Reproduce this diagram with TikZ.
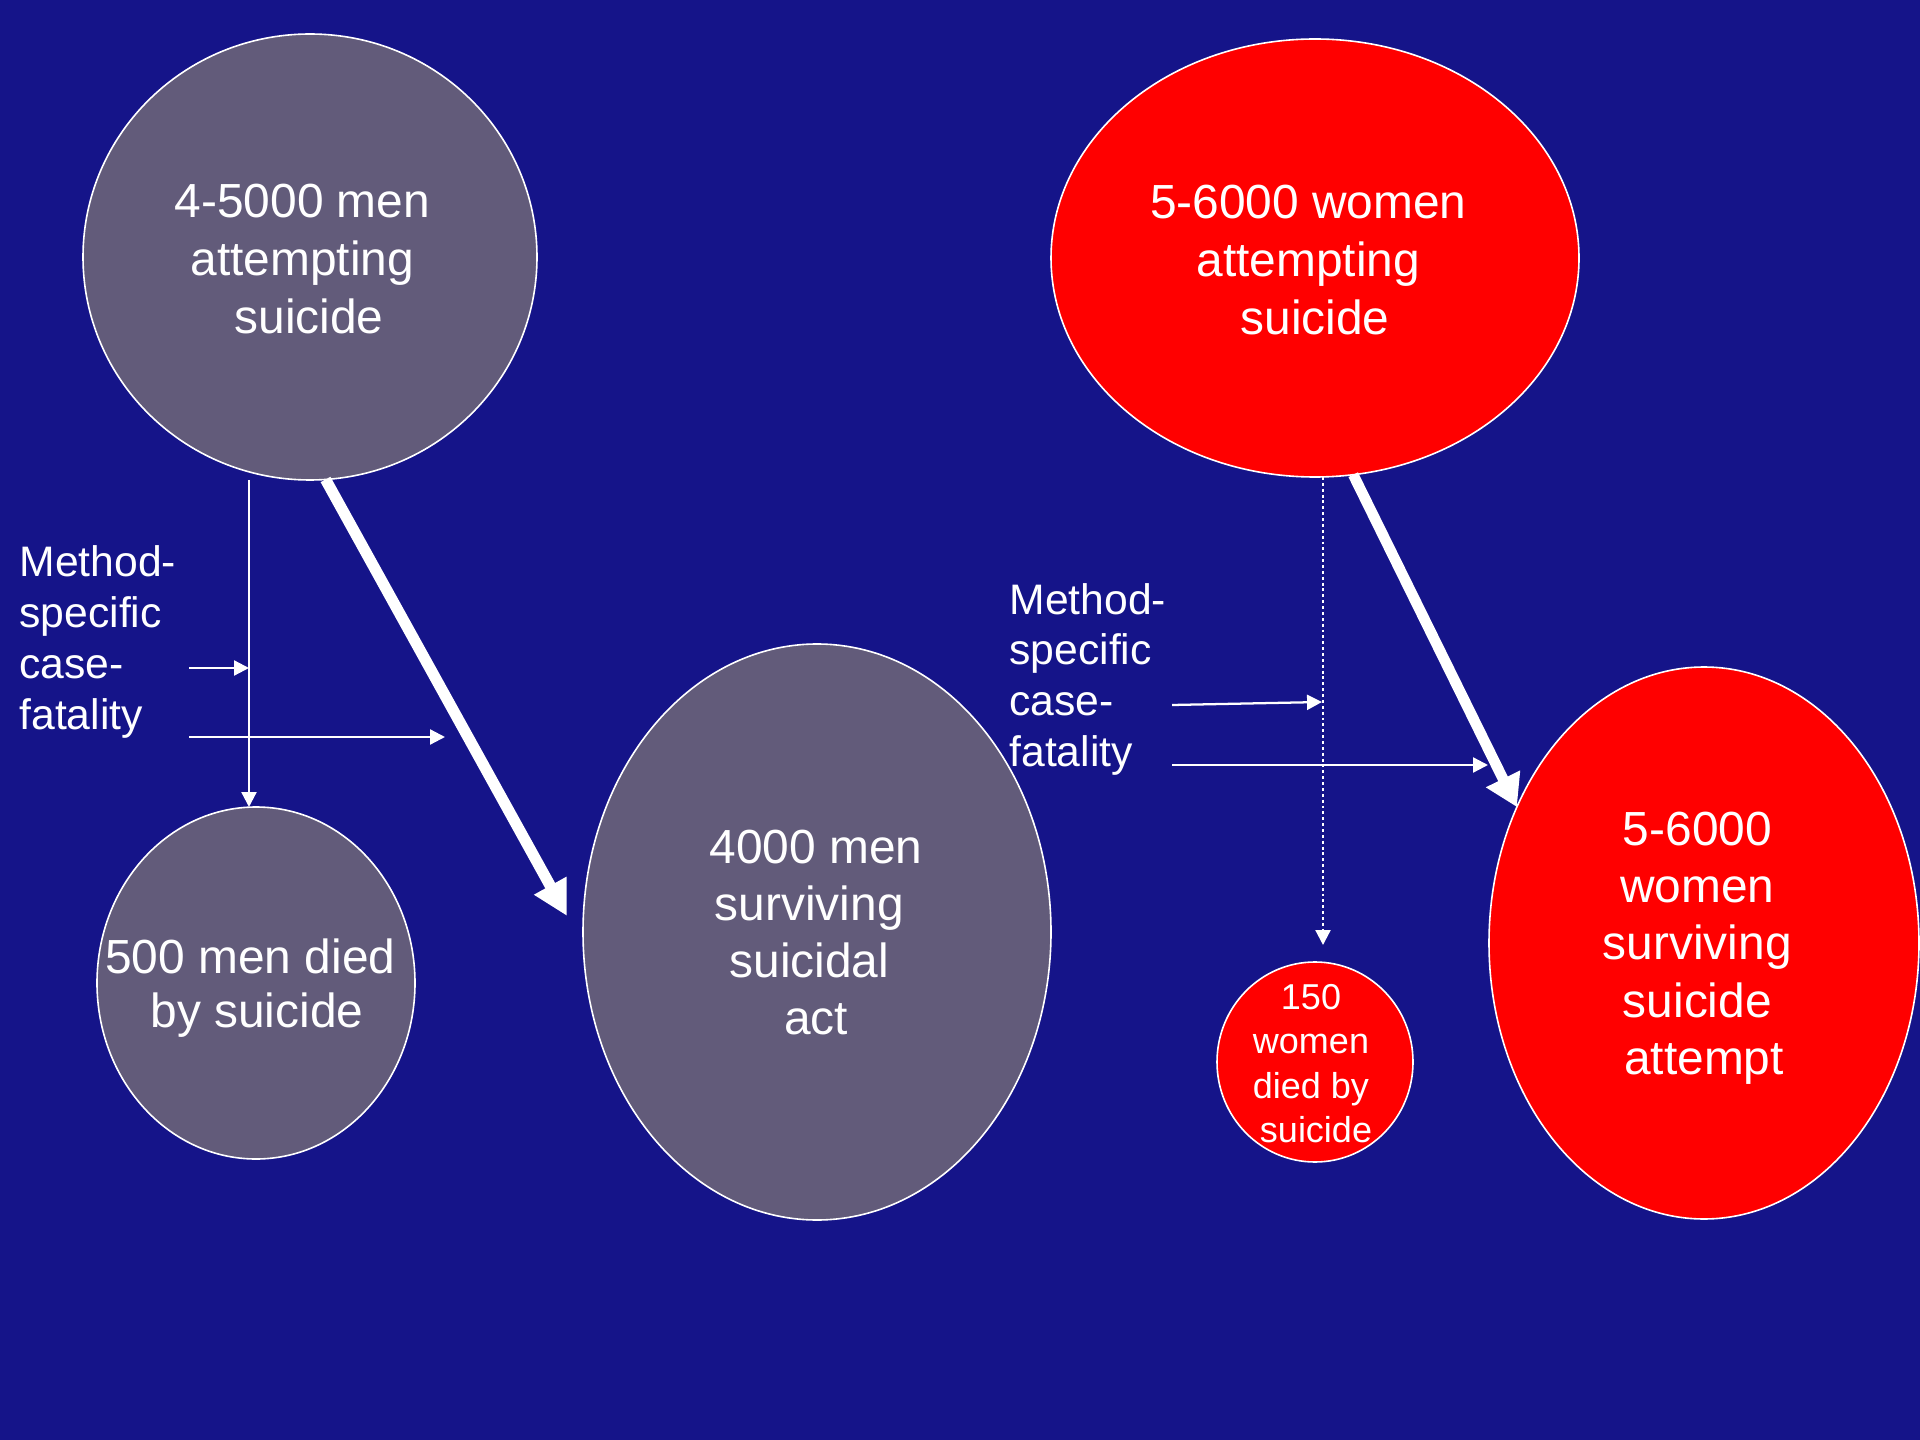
\documentclass[tikz,border=0pt]{standalone}
\usepackage{fontspec}
\setmainfont{Liberation Sans}
\usetikzlibrary{shapes.geometric,arrows.meta,calc}
\definecolor{bgblue}{RGB}{21,20,137}
\definecolor{mgrey}{RGB}{98,91,122}
\definecolor{wred}{RGB}{255,0,0}
\newcommand{\tsp}{\kern.278em}
\begin{document}
\begin{tikzpicture}[x=0.375pt,y=-0.375pt,
  blob/.style={ellipse,draw=white,line width=0.6pt,inner sep=0pt,outer sep=0pt},
  bigtxt/.style={text=white,inner sep=0pt,anchor=base},
  methtxt/.style={text=white,inner sep=0pt,anchor=base west,font=\fontsize{16}{19.1}\selectfont},
  thinarr/.style={draw=white,line width=0.85pt,-{Triangle[length=5.6pt,width=5.6pt]}},
  dotarr/.style={draw=white,line width=0.85pt,dash pattern=on 1.1pt off 1.1pt,-{Triangle[length=5.6pt,width=5.6pt]}},
  bigarr/.style={draw=white,line width=4.2pt,-{Triangle[length=13pt,width=13pt]}},
  bigarrb/.style={draw=white,line width=4pt,-{Triangle[length=11.8pt,width=13.5pt]}}
]
\useasboundingbox (0,0) rectangle (1920,1440);
\fill[bgblue] (0,0) rectangle (1920,1440);

% ellipses
\node[blob,fill=mgrey,minimum width=170.25pt,minimum height=167.25pt] (c1) at (310,257) {};
\node[blob,fill=wred,minimum width=198pt,minimum height=164.25pt] (c2) at (1315,258) {};
\node[blob,fill=mgrey,minimum width=119.25pt,minimum height=132pt] (c3) at (256,983) {};
\node[blob,fill=mgrey,minimum width=175.5pt,minimum height=216pt] (c4) at (817,932) {};
\node[blob,fill=wred,minimum width=73.5pt,minimum height=75pt] (c5) at (1315,1062) {};
\node[blob,fill=wred,minimum width=161.25pt,minimum height=207pt] (c6) at (1704,943) {};

% texts in ellipses
\node[bigtxt,font=\fontsize{17.95}{21.75}\selectfont] (t1) at (309,218)
  {\begin{tabular}[t]{@{}c@{}}4-5000 men\tsp\\attempting\tsp\\suicide\end{tabular}};
\node[bigtxt,font=\fontsize{17.95}{21.75}\selectfont] (t2) at (1315,219)
  {\begin{tabular}[t]{@{}c@{}}5-6000 women\tsp\\attempting\tsp\\suicide\end{tabular}};
\node[bigtxt,font=\fontsize{17.95}{20.6}\selectfont] (t3) at (257,973)
  {\begin{tabular}[t]{@{}c@{}}500 men died\tsp\\by suicide\end{tabular}};
\node[bigtxt,font=\fontsize{17.95}{21.4}\selectfont] (t4) at (816,863)
  {\begin{tabular}[t]{@{}c@{}}4000 men\\surviving\tsp\\suicidal\tsp\\act\end{tabular}};
\node[bigtxt,font=\fontsize{13.5}{16.7}\selectfont] (t5) at (1316,1009)
  {\begin{tabular}[t]{@{}c@{}}150\tsp\\women\tsp\\died by\tsp\\suicide\end{tabular}};
\node[bigtxt,font=\fontsize{17.95}{21.55}\selectfont] (t6) at (1704,845)
  {\begin{tabular}[t]{@{}c@{}}5-6000\tsp\\women\tsp\\surviving\tsp\\suicide\tsp\\attempt\end{tabular}};

% side labels
\node[methtxt] (m1) at (19,577)
  {\begin{tabular}[t]{@{}l@{}}Method-\\specific\\case-\\fatality\end{tabular}};
\node[methtxt] (m2) at (1009,614)
  {\begin{tabular}[t]{@{}l@{}}Method-\\specific\\case-\\fatality\end{tabular}};

% coordinates for free ends
\coordinate (lvx) at (249,0);
\coordinate (a1s) at (189,668);
\coordinate (a1e) at (249,668);
\coordinate (a2s) at (189,737);
\coordinate (a2e) at (445,737);
\coordinate (bt1) at (567,916);
\coordinate (rvx) at (1323,0);
\coordinate (dt) at (1323,945);
\coordinate (a3s) at (1172,705);
\coordinate (a3e) at (1322,702);
\coordinate (a4s) at (1172,765);
\coordinate (a4e) at (1488,765);

% connectors, men side
\draw[thinarr] (lvx |- c1.south) -- (lvx |- c3.north);
\draw[thinarr] (a1s) -- (a1e);
\draw[thinarr] (a2s) -- (a2e);
\draw[bigarr] (c1.274) -- (bt1);

% connectors, women side
\draw[dotarr] (rvx |- c2.south) -- (dt);
\draw[thinarr] (a3s) -- (a3e);
\draw[thinarr] (a4s) -- (a4e);
\draw[bigarrb] (c2.280) -- (c6.144);
\end{tikzpicture}
\end{document}
